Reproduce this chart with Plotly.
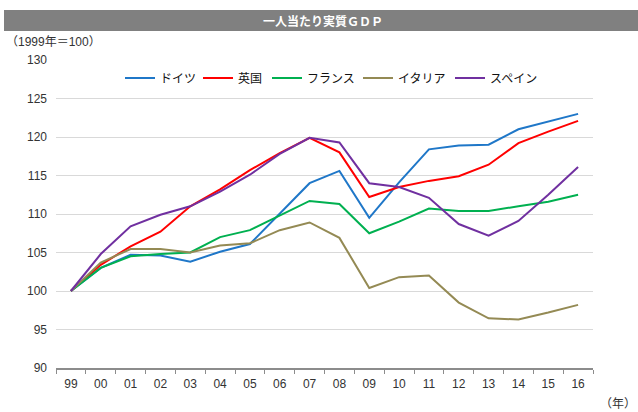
import plotly.graph_objects as go

years = ["99", "00", "01", "02", "03", "04", "05", "06", "07", "08",
         "09", "10", "11", "12", "13", "14", "15", "16"]

germany = [100, 103.0, 104.7, 104.6, 103.8, 105.1, 106.1, 110.0, 114.0, 115.6,
           109.5, 114.1, 118.4, 118.9, 119.0, 121.0, 122.0, 123.0]
uk = [100, 103.4, 105.8, 107.7, 111.0, 113.2, 115.7, 117.9, 119.9, 118.0,
      112.2, 113.5, 114.3, 114.9, 116.4, 119.2, 120.7, 122.1]
france = [100, 103.0, 104.5, 104.8, 105.0, 107.0, 107.9, 109.8, 111.7, 111.3,
          107.5, 109.0, 110.7, 110.4, 110.4, 111.0, 111.6, 112.5]
italy = [100, 103.7, 105.45, 105.45, 105.0, 105.9, 106.2, 107.9, 108.9, 106.9,
         100.4, 101.8, 102.0, 98.5, 96.45, 96.3, 97.2, 98.2]
spain = [100, 104.8, 108.4, 109.9, 111.0, 112.9, 115.1, 117.8, 119.9, 119.3,
         114.0, 113.5, 112.1, 108.7, 107.2, 109.1, 112.5, 116.1]

series = [
    ("ドイツ", germany, "#1F77C8", 33),
    ("英国", uk, "#FF0000", 24),
    ("フランス", france, "#00B050", 46),
    ("イタリア", italy, "#948A54", 47),
    ("スペイン", spain, "#7030A0", 50),
]

y_ticks = [90, 95, 100, 105, 110, 115, 120, 125, 130]

fig = go.Figure()
for name, vals, col, lw in series:
    fig.add_trace(go.Scatter(x=years, y=vals, name=name, mode="lines",
                             legendwidth=lw,
                             line=dict(color=col, width=2)))

W, H = 638, 412
L, R, T, B = 56, 45, 60, 44
pw, ph = W - L - R, H - T - B


def px(x):
    return (x - L) / pw


def py(y):
    return (H - B - y) / ph


fig.update_layout(
    width=W, height=H,
    margin=dict(l=L, r=R, t=T, b=B),
    paper_bgcolor="white", plot_bgcolor="white",
    font=dict(family="Liberation Sans, Noto Sans CJK JP", size=12, color="#333333"),
    showlegend=True,
    legend=dict(orientation="h", x=px(120), y=py(78), xanchor="left", yanchor="middle",
                font=dict(family="Noto Sans CJK JP", size=12, color="#111111"),
                bgcolor="rgba(0,0,0,0)", itemwidth=30),
    xaxis=dict(type="category", range=[-0.5, 17.5], showgrid=False,
               showline=True, linecolor="#8c8c8c", linewidth=1.5,
               ticks="outside", tickson="boundaries", ticklen=4, tickcolor="#8c8c8c",
               ticklabelstandoff=4,
               tickfont=dict(size=12, color="#333333"), fixedrange=True),
    yaxis=dict(range=[90, 130], tickvals=y_ticks, showgrid=True, gridcolor="#d9d9d9",
               gridwidth=1, zeroline=False, showline=False, ticks="",
               ticklabelstandoff=8,
               tickfont=dict(size=12, color="#333333"), fixedrange=True),
    shapes=[dict(type="rect", xref="paper", yref="paper",
                 x0=px(4), x1=px(640), y0=py(31), y1=py(10),
                 fillcolor="#808080", line=dict(width=0), layer="above")],
    annotations=[
        dict(text="<b>一人当たり実質ＧＤＰ</b>", xref="paper", yref="paper",
             x=px(323), y=py(20.5), showarrow=False, xanchor="center", yanchor="middle",
             font=dict(family="Noto Sans CJK JP", size=12, color="white")),
        dict(text="（1999年＝100）", xref="paper", yref="paper",
             x=px(4), y=py(42), showarrow=False, xanchor="left", yanchor="middle",
             font=dict(family="Liberation Sans, Noto Sans CJK JP", size=12, color="#333333")),
        dict(text="（年）", xref="paper", yref="paper",
             x=px(598), y=py(403), showarrow=False, xanchor="left", yanchor="middle",
             font=dict(family="Noto Sans CJK JP", size=12, color="#333333")),
    ],
)

fig.write_html("out.html", config={"displayModeBar": False},
               post_script="document.body.style.margin='0';")
